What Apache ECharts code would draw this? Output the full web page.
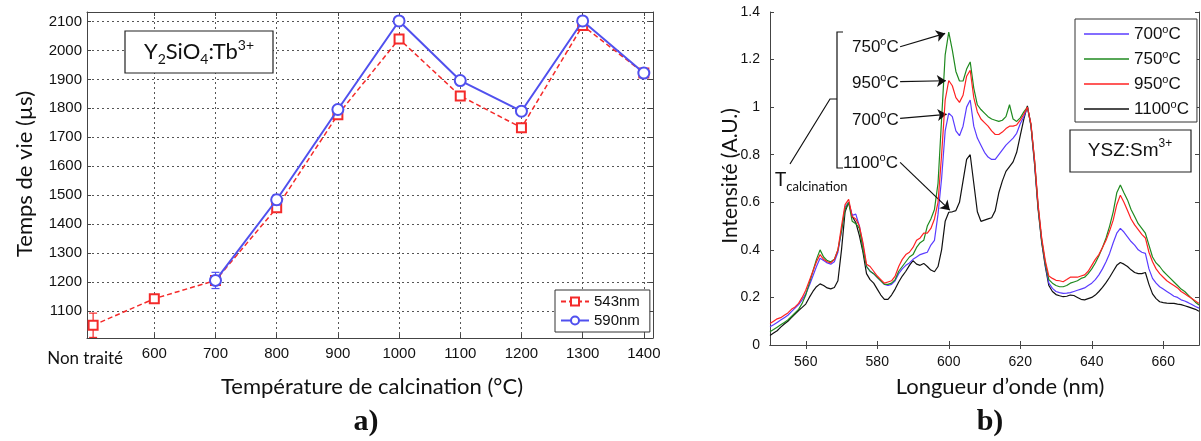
<!DOCTYPE html>
<html><head><meta charset="utf-8">
<script src="https://cdn.jsdelivr.net/npm/echarts@6/dist/echarts.min.js"></script>
<style>html,body{margin:0;padding:0;background:#fff}#c{width:1201px;height:441px}</style>
</head><body><div id="c"></div>
<script>
// ---------- Panel a) ----------
const tempX = [500, 600, 700, 800, 900, 1000, 1100, 1200, 1300, 1400];
const tempTickValues = [600, 700, 800, 900, 1000, 1100, 1200, 1300, 1400];
const untreatedLabel = 'Non traité';
const life543 = [1050, 1142, 1205, 1456, 1778, 2040, 1843, 1733, 2086, 1922];
const err543  = [42, 6, 14, 10, 8, 10, 8, 8, 8, 8];
const life590 = [null, null, 1205, 1484, 1796, 2102, 1896, 1790, 2102, 1922];
const err590  = [null, null, 28, 18, 8, 8, 6, 6, 8, 8];
const lifeTicks = [1100, 1200, 1300, 1400, 1500, 1600, 1700, 1800, 1900, 2000, 2100];

// ---------- Panel b) ----------
const wavelength = [550,551,552,553,554,555,556,557,558,559,560,561,562,563,564,565,566,567,568,569,570,571,572,573,574,575,576,577,578,579,580,581,582,583,584,585,586,587,588,589,590,591,592,593,594,595,596,597,598,599,600,601,602,603,604,605,606,607,608,609,610,611,612,613,614,615,616,617,618,619,620,621,622,623,624,625,626,627,628,629,630,631,632,633,634,635,636,637,638,639,640,641,642,643,644,645,646,647,648,649,650,651,652,653,654,655,656,657,658,659,660,661,662,663,664,665,666,667,668,669,670];
const int1100 = [0.040,0.050,0.060,0.075,0.088,0.100,0.115,0.130,0.145,0.158,0.172,0.200,0.225,0.245,0.257,0.250,0.240,0.236,0.242,0.270,0.400,0.560,0.600,0.540,0.515,0.460,0.390,0.300,0.275,0.260,0.235,0.210,0.192,0.192,0.210,0.235,0.265,0.290,0.310,0.335,0.355,0.340,0.335,0.343,0.330,0.315,0.308,0.330,0.400,0.520,0.558,0.560,0.565,0.600,0.690,0.780,0.800,0.680,0.560,0.520,0.525,0.530,0.535,0.565,0.640,0.690,0.730,0.750,0.770,0.810,0.880,0.950,1.005,0.920,0.760,0.570,0.430,0.330,0.250,0.225,0.212,0.207,0.203,0.205,0.210,0.208,0.200,0.192,0.190,0.195,0.200,0.210,0.225,0.242,0.262,0.285,0.310,0.335,0.347,0.340,0.330,0.316,0.305,0.300,0.300,0.305,0.255,0.215,0.195,0.182,0.178,0.176,0.175,0.175,0.172,0.170,0.165,0.160,0.155,0.150,0.142];
const int700 = [0.077,0.085,0.095,0.105,0.115,0.125,0.140,0.155,0.170,0.190,0.215,0.250,0.290,0.330,0.365,0.355,0.345,0.340,0.350,0.390,0.480,0.580,0.600,0.545,0.550,0.500,0.420,0.330,0.310,0.300,0.285,0.270,0.255,0.250,0.255,0.270,0.300,0.320,0.335,0.345,0.360,0.370,0.380,0.385,0.390,0.420,0.440,0.550,0.700,0.900,0.975,0.960,0.900,0.880,0.920,1.000,1.030,0.920,0.870,0.840,0.810,0.790,0.780,0.780,0.800,0.820,0.840,0.855,0.870,0.890,0.930,0.960,1.000,0.925,0.770,0.580,0.440,0.340,0.260,0.238,0.225,0.220,0.217,0.218,0.220,0.225,0.230,0.235,0.240,0.250,0.260,0.275,0.295,0.320,0.350,0.385,0.430,0.470,0.490,0.475,0.455,0.435,0.420,0.400,0.390,0.385,0.320,0.280,0.260,0.245,0.235,0.225,0.215,0.205,0.200,0.190,0.185,0.178,0.170,0.162,0.155];
const int750 = [0.056,0.065,0.075,0.085,0.095,0.105,0.120,0.135,0.150,0.175,0.210,0.260,0.310,0.360,0.400,0.370,0.355,0.350,0.360,0.400,0.480,0.570,0.600,0.520,0.510,0.490,0.400,0.330,0.310,0.300,0.285,0.270,0.255,0.255,0.260,0.275,0.310,0.330,0.350,0.370,0.380,0.410,0.430,0.440,0.500,0.530,0.570,0.680,0.950,1.220,1.315,1.240,1.150,1.110,1.110,1.160,1.190,1.080,1.010,0.990,0.975,0.960,0.950,0.945,0.940,0.945,0.960,1.010,0.950,0.940,0.955,0.980,1.000,0.925,0.775,0.580,0.440,0.345,0.275,0.260,0.250,0.245,0.245,0.250,0.260,0.265,0.270,0.280,0.285,0.300,0.320,0.345,0.375,0.410,0.450,0.500,0.560,0.640,0.673,0.640,0.610,0.570,0.540,0.510,0.490,0.470,0.420,0.370,0.345,0.330,0.310,0.295,0.280,0.265,0.250,0.235,0.225,0.210,0.195,0.180,0.168];
const int950 = [0.090,0.100,0.110,0.115,0.125,0.135,0.150,0.160,0.175,0.200,0.230,0.270,0.310,0.350,0.380,0.360,0.350,0.345,0.360,0.400,0.500,0.590,0.612,0.540,0.530,0.500,0.430,0.340,0.330,0.310,0.290,0.275,0.260,0.265,0.270,0.290,0.330,0.360,0.380,0.390,0.410,0.440,0.450,0.470,0.470,0.490,0.530,0.600,0.800,1.030,1.112,1.090,1.040,1.020,1.050,1.130,1.155,1.040,0.980,0.950,0.935,0.920,0.900,0.885,0.885,0.895,0.910,0.920,0.920,0.925,0.945,0.970,1.000,0.930,0.780,0.590,0.450,0.355,0.290,0.280,0.272,0.270,0.266,0.275,0.285,0.285,0.285,0.290,0.295,0.310,0.335,0.360,0.380,0.410,0.440,0.480,0.525,0.590,0.630,0.600,0.565,0.530,0.505,0.485,0.465,0.450,0.390,0.350,0.320,0.300,0.285,0.270,0.260,0.250,0.240,0.225,0.215,0.205,0.195,0.185,0.175];
const waveTicks = [560, 580, 600, 620, 640, 660];
const calcNames = ['700°C', '750°C', '950°C', '1100°C'];
// annotation arrows (start -> end, in data units: nm, A.U.)
const arrow750  = [[586.4, 1.254], [599.0, 1.310]];
const arrow950  = [[586.4, 1.107], [599.2, 1.111]];
const arrow700  = [[586.4, 0.953], [599.4, 0.970]];
const arrow1100 = [[586.4, 0.768], [600.3, 0.567]];

const RED = '#f42a2a', BLUE = '#5050ee';
const C700 = '#5a3cff', C750 = '#1f8a1f', C950 = '#ff2222', C1100 = '#111111';
const SANS = 'Liberation Sans, Arial, sans-serif';
const CAL = 'Lato, "Open Sans", sans-serif';

const pair = (xs, ys) => ys.map((v, i) => v == null ? null : [xs[i], v]).filter(d => d);
const errData = (xs, ys, es) => ys.map((v, i) => v == null ? null : [xs[i], v, es[i]]).filter(d => d);

function errRender(color) {
  return function (params, api) {
    const x = api.value(0), v = api.value(1), e = api.value(2);
    const t = api.coord([x, v + e]), b = api.coord([x, v - e]);
    const hw = 4, st = { stroke: color, lineWidth: 1.2 };
    return { type: 'group', children: [
      { type: 'line', shape: { x1: t[0], y1: t[1], x2: b[0], y2: b[1] }, style: st },
      { type: 'line', shape: { x1: t[0] - hw, y1: t[1], x2: t[0] + hw, y2: t[1] }, style: st },
      { type: 'line', shape: { x1: b[0] - hw, y1: b[1], x2: b[0] + hw, y2: b[1] }, style: st }
    ]};
  };
}

const axisLine = { show: true, lineStyle: { color: '#444', width: 1 } };
const tickIn = { show: true, inside: true, length: 4, lineStyle: { color: '#444' } };
const dotted = { show: true, lineStyle: { color: '#555', type: [2, 3], width: 1 } };
const tickLabel = { color: '#111', fontFamily: SANS, fontSize: 15 };
const legendIcon = 'path://M0,0 L45,0 L45,1.6 L0,1.6 Z';

const chart = echarts.init(document.getElementById('c'), null, { renderer: 'canvas' });
chart.setOption({
  animation: false,
  backgroundColor: '#fff',
  grid: [
    { left: 87, right: 548, top: 12, bottom: 103, containLabel: false, outerBoundsMode: 'none' },
    { left: 770, right: 2, top: 12, bottom: 96, containLabel: false, outerBoundsMode: 'none' }
  ],
  xAxis: [
    { gridIndex: 0, type: 'value', min: 490, max: 1415, position: 'bottom', axisLine,
      axisTick: Object.assign({ customValues: tempTickValues }, tickIn),
      axisLabel: Object.assign({ customValues: tempX, margin: 8,
        formatter: v => v === 500 ? '{nt|' + untreatedLabel + '}' : String(v),
        rich: { nt: { fontFamily: CAL, fontSize: 17, color: '#111', padding: [4, 16, 0, 0] } } }, tickLabel),
      splitLine: dotted },
    { gridIndex: 0, type: 'value', min: 490, max: 1415, position: 'top', axisLine,
      axisTick: Object.assign({ customValues: tempTickValues }, tickIn),
      axisLabel: { show: false }, splitLine: { show: false } },
    { gridIndex: 1, type: 'value', min: 550, max: 670, position: 'bottom', axisLine,
      axisTick: Object.assign({ customValues: waveTicks }, tickIn),
      axisLabel: Object.assign({ customValues: waveTicks, margin: 10 }, tickLabel, { fontSize: 14 }),
      splitLine: { show: false } },
    { gridIndex: 1, type: 'value', min: 550, max: 670, position: 'top', axisLine,
      axisTick: Object.assign({ customValues: waveTicks }, tickIn),
      axisLabel: { show: false }, splitLine: { show: false } }
  ],
  yAxis: [
    { gridIndex: 0, type: 'value', min: 1006, max: 2133, position: 'left', axisLine,
      axisTick: Object.assign({ customValues: lifeTicks }, tickIn),
      axisLabel: Object.assign({ customValues: lifeTicks, margin: 5, formatter: v => String(v) }, tickLabel),
      splitLine: dotted },
    { gridIndex: 0, type: 'value', min: 1006, max: 2133, position: 'right', axisLine,
      axisTick: Object.assign({ customValues: lifeTicks }, tickIn),
      axisLabel: { show: false }, splitLine: { show: false } },
    { gridIndex: 1, type: 'value', min: 0, max: 1.4, interval: 0.2, position: 'left', axisLine,
      axisTick: tickIn, axisLabel: Object.assign({ margin: 10, formatter: v => String(+v.toFixed(1)) }, tickLabel, { fontSize: 14 }),
      splitLine: { show: false } },
    { gridIndex: 1, type: 'value', min: 0, max: 1.4, interval: 0.2, position: 'right', axisLine,
      axisTick: tickIn, axisLabel: { show: false }, splitLine: { show: false } }
  ],
  legend: [
    { data: ['543nm', '590nm'], left: 555, top: 290, orient: 'vertical',
      padding: [4, 10, 4, 5], itemGap: 4, itemWidth: 28, itemHeight: 10,
      backgroundColor: '#fff', borderColor: '#333', borderWidth: 1,
      textStyle: { fontFamily: SANS, fontSize: 15, color: '#111' } },
    { data: calcNames.map(n => ({ name: n, icon: legendIcon })), left: 1075, top: 19, orient: 'vertical',
      padding: [5, 8, 3, 9], itemGap: 5, itemWidth: 45, itemHeight: 2,
      backgroundColor: '#fff', borderColor: '#333', borderWidth: 1,
      formatter: n => '{a|' + n.replace('°C', '') + '}{s|o}{a|C}',
      textStyle: { fontFamily: SANS, fontSize: 17, color: '#111',
        rich: { a: { fontFamily: SANS, fontSize: 17, color: '#111', lineHeight: 20 },
                s: { fontFamily: SANS, fontSize: 11, color: '#111', padding: [0, 0, 9, 0], lineHeight: 11 } } } }
  ],
  series: [
    { name: '543nm', type: 'line', xAxisIndex: 0, yAxisIndex: 0, data: pair(tempX, life543),
      symbol: 'emptyRect', symbolSize: 9, color: RED,
      lineStyle: { color: RED, width: 1.5, type: [5, 3] }, itemStyle: { color: RED, borderWidth: 1.5 }, z: 3 },
    { name: '543nm-err', type: 'custom', xAxisIndex: 0, yAxisIndex: 0, data: errData(tempX, life543, err543),
      renderItem: errRender(RED), encode: { x: 0, y: 1 }, z: 3 },
    { name: '590nm', type: 'line', xAxisIndex: 0, yAxisIndex: 0, data: pair(tempX, life590),
      symbol: 'emptyCircle', symbolSize: 11, color: BLUE,
      lineStyle: { color: BLUE, width: 2 }, itemStyle: { color: BLUE, borderWidth: 1.5 }, z: 4 },
    { name: '590nm-err', type: 'custom', xAxisIndex: 0, yAxisIndex: 0, data: errData(tempX, life590, err590),
      renderItem: errRender(BLUE), encode: { x: 0, y: 1 }, z: 4 },

    { name: '1100°C', type: 'line', xAxisIndex: 2, yAxisIndex: 2, data: pair(wavelength, int1100),
      symbol: 'none', color: C1100, lineStyle: { color: C1100, width: 1.2 }, z: 2,
      markLine: { silent: true, symbol: ['none', 'arrow'], symbolSize: 9, animation: false,
        label: { show: false }, lineStyle: { color: '#111', width: 1.2, type: 'solid' },
        emphasis: { disabled: true },
        data: [arrow750, arrow950, arrow700, arrow1100].map(a => [{ coord: a[0] }, { coord: a[1] }]) } },
    { name: '700°C', type: 'line', xAxisIndex: 2, yAxisIndex: 2, data: pair(wavelength, int700),
      symbol: 'none', color: C700, lineStyle: { color: C700, width: 1.2 }, z: 3 },
    { name: '750°C', type: 'line', xAxisIndex: 2, yAxisIndex: 2, data: pair(wavelength, int750),
      symbol: 'none', color: C750, lineStyle: { color: C750, width: 1.2 }, z: 4 },
    { name: '950°C', type: 'line', xAxisIndex: 2, yAxisIndex: 2, data: pair(wavelength, int950),
      symbol: 'none', color: C950, lineStyle: { color: C950, width: 1.2 }, z: 5 }
  ],
  graphic: [
    // panel a) titles
    { type: 'text', x: 25, y: 174, rotation: Math.PI / 2, z: 100,
      style: { text: 'Temps de vie (µs)', fontFamily: CAL, fontSize: 22, fill: '#111', align: 'center', verticalAlign: 'middle' } },
    { type: 'text', x: 372, y: 387, z: 100,
      style: { text: 'Température de calcination (°C)', fontFamily: CAL, fontSize: 22, fill: '#111', align: 'center', verticalAlign: 'middle' } },
    { type: 'text', x: 366, y: 422, z: 100,
      style: { text: 'a)', fontFamily: 'Liberation Serif, serif', fontWeight: 'bold', fontSize: 30, fill: '#111', align: 'center', verticalAlign: 'middle' } },
    { type: 'rect', z: 100, shape: { x: 125, y: 31, width: 148, height: 42 },
      style: { fill: '#fff', stroke: '#222', lineWidth: 1.2 } },
    { type: 'text', x: 199, y: 52, z: 101,
      style: { text: '{m|Y}{b|2}{m|SiO}{b|4}{m|:Tb}{t|3+}', align: 'center', verticalAlign: 'middle',
        rich: { m: { fontFamily: CAL, fontSize: 22, fill: '#111', lineHeight: 28 },
                b: { fontFamily: CAL, fontSize: 14, fill: '#111', verticalAlign: 'bottom', lineHeight: 14 },
                t: { fontFamily: CAL, fontSize: 14, fill: '#111', verticalAlign: 'top', lineHeight: 14 } } } },
    // panel b) titles
    { type: 'text', x: 730, y: 176, rotation: Math.PI / 2, z: 100,
      style: { text: 'Intensité (A.U.)', fontFamily: CAL, fontSize: 21, fill: '#111', align: 'center', verticalAlign: 'middle' } },
    { type: 'text', x: 1000, y: 387, z: 100,
      style: { text: 'Longueur d’onde (nm)', fontFamily: CAL, fontSize: 22, fill: '#111', align: 'center', verticalAlign: 'middle' } },
    { type: 'text', x: 990, y: 422, z: 100,
      style: { text: 'b)', fontFamily: 'Liberation Serif, serif', fontWeight: 'bold', fontSize: 30, fill: '#111', align: 'center', verticalAlign: 'middle' } },
    { type: 'rect', z: 100, shape: { x: 1070, y: 130, width: 121, height: 42 },
      style: { fill: '#fff', stroke: '#222', lineWidth: 1.2 } },
    { type: 'text', x: 1130, y: 151, z: 101,
      style: { text: '{m|YSZ:Sm}{t|3+}', align: 'center', verticalAlign: 'middle',
        rich: { m: { fontFamily: SANS, fontSize: 19, fill: '#111', lineHeight: 26 },
                t: { fontFamily: SANS, fontSize: 12, fill: '#111', verticalAlign: 'top', lineHeight: 12 } } } },
    // bracket + T_calcination
    { type: 'polyline', z: 100, shape: { points: [[843, 32], [837, 32], [837, 168], [843, 168]] },
      style: { stroke: '#111', lineWidth: 1.2, fill: null } },
    { type: 'polyline', z: 100, shape: { points: [[837, 99], [830, 99], [790, 164]] },
      style: { stroke: '#111', lineWidth: 1.2, fill: null } },
    { type: 'text', x: 775, y: 180, z: 100,
      style: { text: '{m|T}{b|calcination}', align: 'left', verticalAlign: 'middle',
        rich: { m: { fontFamily: CAL, fontSize: 19, fill: '#111', lineHeight: 26 },
                b: { fontFamily: CAL, fontSize: 13, fill: '#111', verticalAlign: 'bottom', lineHeight: 13 } } } },
    ...[['750', 852, 47], ['950', 852, 83], ['700', 852, 120], ['1100', 843, 163]].map(([t, x, y]) => ({
      type: 'text', x: x, y: y, z: 100,
      style: { text: '{m|' + t + '}{s|o}{m|C}', align: 'left', verticalAlign: 'middle',
        rich: { m: { fontFamily: SANS, fontSize: 17, fill: '#111', lineHeight: 22 },
                s: { fontFamily: SANS, fontSize: 11, fill: '#111', verticalAlign: 'top', lineHeight: 11 } } } }))
  ]
});
</script></body></html>
